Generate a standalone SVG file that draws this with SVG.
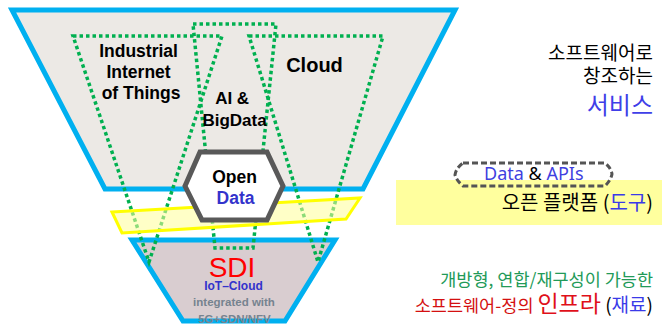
<svg xmlns="http://www.w3.org/2000/svg" width="662" height="325" viewBox="0 0 662 325">
  <style>
    .layer { stroke: #00B0F0; stroke-width: 5; stroke-linejoin: miter; }
    .dot { fill: none; stroke: #00B050; stroke-width: 3.5; stroke-dasharray: 3.5 3; }
    .lbl { font-family: "Liberation Sans", Arial, sans-serif; font-weight: bold; text-anchor: middle; }
    .kr { font-family: "Noto Sans CJK KR", "Noto Sans", sans-serif; text-anchor: end; }
    .en { font-family: "Noto Sans", "Liberation Sans", sans-serif; }
  </style>
  <rect width="662" height="325" fill="#FFFFFF"/>

  <g id="service-layer">
    <polygon class="layer" points="12,10 455,10 363,189 105,189" fill="#ECE9E5"/>
  </g>
  <g id="sdi-layer">
    <polygon class="layer" points="132,240 335,240 285,321 183,321" fill="#D9CDD0"/>
  </g>

  <g id="connectors">
    <polygon id="iiot-area" class="dot" points="73,36 222,36 149,262"/>
    <polygon id="cloud-area" class="dot" points="249,36 383,36 318,262"/>
    <polygon id="ai-area" class="dot" points="193,24 276,24 253,248 215,248"/>
  </g>

  <g id="platform-band">
    <polygon points="112,212 360,198 346,219 122,233" fill="#FFFF99" fill-opacity="0.55" stroke="#FFFF00" stroke-width="3"/>
  </g>

  <g id="open-data">
    <polygon points="185,186 200,152 267,152 283,186 267,220 202,220" fill="#FFFFFF" stroke="#595959" stroke-width="5"/>
    <text class="lbl" x="234.5" y="183" font-size="17.5" fill="#000000">Open</text>
    <text class="lbl" x="235.5" y="204" font-size="17.5" fill="#3333CC">Data</text>
  </g>

  <g id="iiot">
    <text class="lbl" font-size="17.5" fill="#000000">
      <tspan x="141" y="57">Industrial</tspan>
      <tspan x="141" y="78">Internet</tspan>
      <tspan x="141" y="99">of Things</tspan>
    </text>
  </g>
  <g id="cloud">
    <text class="lbl" x="314.5" y="72" font-size="20" fill="#000000">Cloud</text>
  </g>
  <g id="ai-bigdata">
    <text class="lbl" font-size="17" fill="#000000">
      <tspan x="234.5" y="104">AI &amp;</tspan>
      <tspan x="234.5" y="126">BigData</tspan>
    </text>
  </g>

  <g id="sdi">
    <text x="232" y="276.5" font-family="Liberation Sans, Arial, sans-serif" font-size="28" text-anchor="middle" fill="#FF0000">SDI</text>
    <text class="lbl" x="233.5" y="289.5" font-size="12" fill="#3333CC">IoT–Cloud</text>
    <text class="lbl" x="234" y="306" font-size="11.5" fill="#76838F">integrated with</text>
    <text class="lbl" x="234.5" y="322.5" font-size="11.5" fill="#76838F">5G+SDN/NFV</text>
  </g>

  <g id="service-text">
    <text class="kr" x="653" y="60" font-size="19" fill="#000000">소프트웨어로</text>
    <text class="kr" x="653" y="82.5" font-size="19" fill="#000000">창조하는</text>
    <text class="kr" x="653" y="113.5" font-size="24" fill="#3F3FE8">서비스</text>
  </g>

  <g id="platform-text">
    <rect x="396" y="180" width="266" height="45" fill="#FFFF9E"/>
    <path d="M463,163 H605 Q611,168 612,174 Q611,180 605,186 H463 Q457,181 455,175 Q456,168 463,163 Z" fill="none" stroke="#555555" stroke-width="3" stroke-dasharray="6 3"/>
    <text class="en" x="484" y="180" font-size="18" fill="#3F3FE0">Data <tspan fill="#000000">&amp;</tspan> APIs</text>
    <text class="kr" x="653" y="210" font-size="20" fill="#000000">오픈 플랫폼 (<tspan fill="#3A3AE8">도구</tspan>)</text>
  </g>

  <g id="infra-text">
    <text class="kr" x="653" y="286" font-size="17.5" fill="#229A58">개방형, 연합/재구성이 가능한</text>
    <text class="kr" x="653" y="312" font-size="17.5" fill="#D41010">소프트웨어-정의 <tspan font-size="23" fill="#E0101A">인프라</tspan><tspan font-size="19" fill="#000000"> (</tspan><tspan font-size="19" fill="#3A3AE8">재료</tspan><tspan font-size="19" fill="#000000">)</tspan></text>
  </g>
</svg>
